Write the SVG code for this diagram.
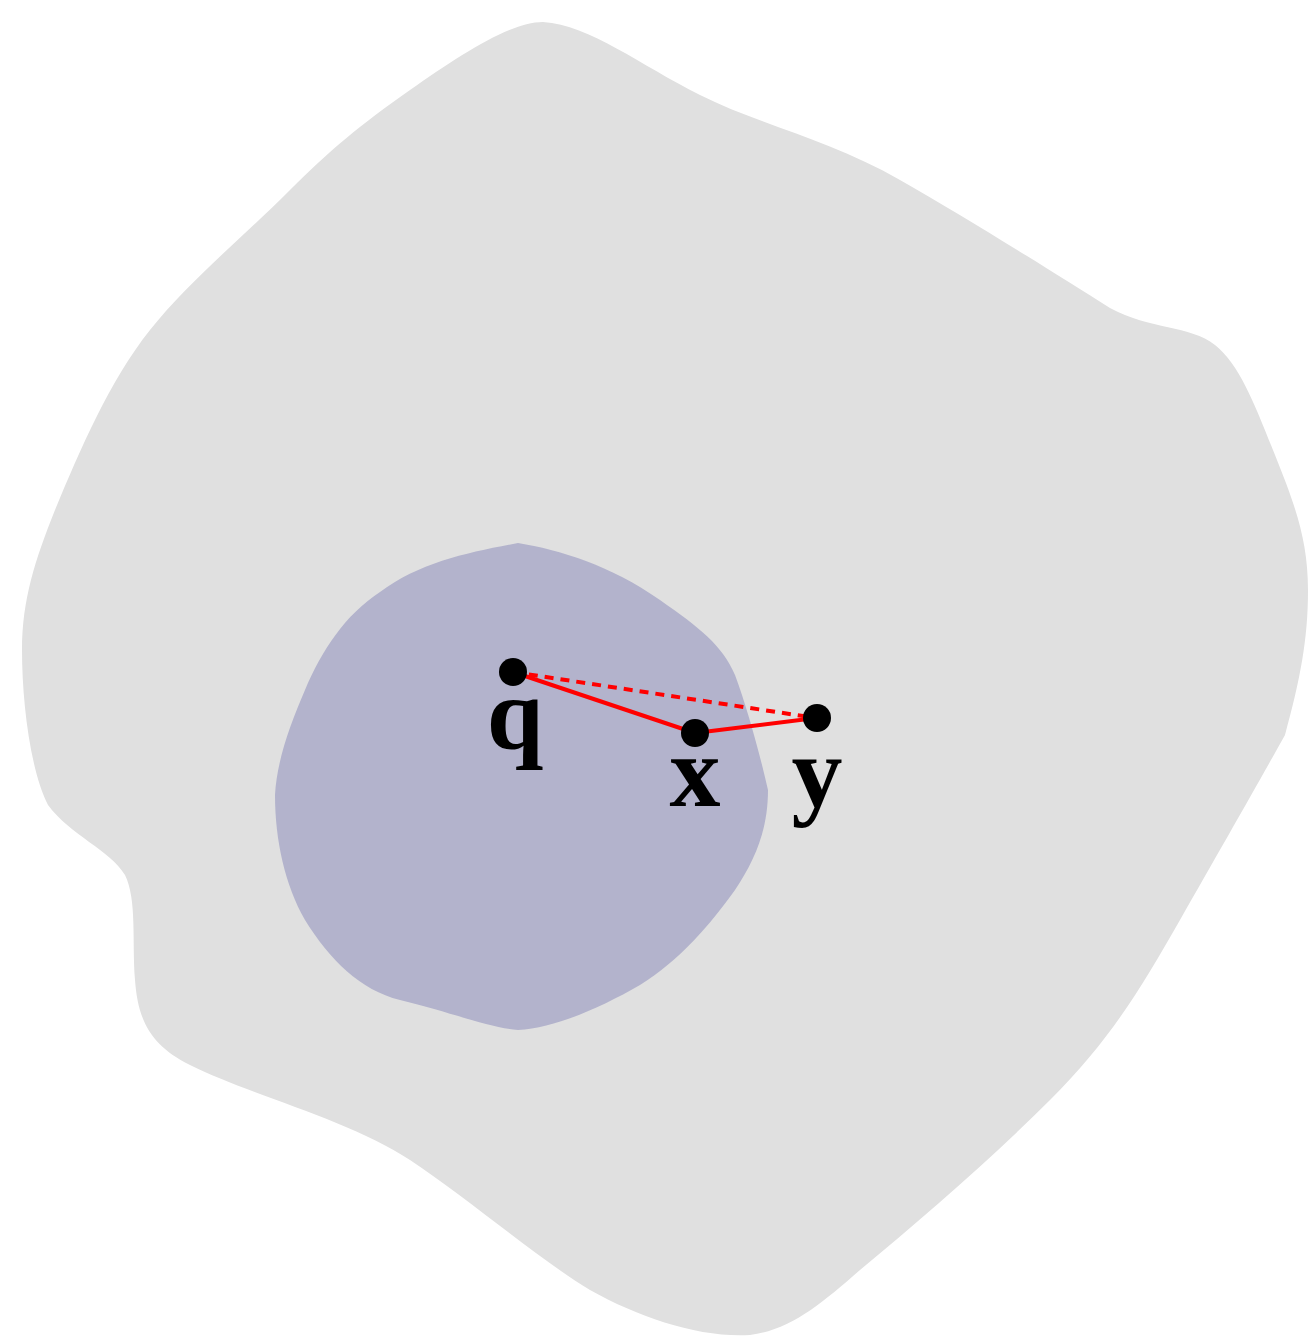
<svg xmlns="http://www.w3.org/2000/svg" width="1308" height="1339" viewBox="0 0 1308 1339">
<style>
.lbl{font-family:"Liberation Serif","Times New Roman",serif;font-weight:bold;font-size:102px;fill:#000;text-anchor:middle}
.pt{fill:#000}
.edge{stroke:#ff0000;stroke-width:4;fill:none}
</style>
<rect width="1308" height="1339" fill="#ffffff"/>
<g id="outer">
<path fill="#e0e0e0" d="M543,22 C590,25 640,65 700,95 C760,125 830,140 900,180 C970,220 1050,270 1110,308 C1150,330 1190,325 1215,345 C1240,365 1255,405 1275,455 C1295,505 1308,540 1308,590 C1308,640 1300,680 1285,735 C1260,780 1220,850 1180,920 C1140,990 1110,1040 1050,1100 C990,1160 920,1220 860,1270 C820,1305 790,1330 750,1335 C700,1338 640,1318 590,1290 C540,1260 470,1200 410,1160 C350,1120 250,1095 190,1065 C150,1045 138,1020 135,980 C132,940 137,900 125,875 C110,850 70,835 48,805 C30,770 22,700 22,650 C22,600 35,560 55,510 C80,450 110,380 150,330 C190,280 240,240 290,190 C330,150 360,125 410,90 C460,55 510,22 543,22 Z"/>
</g>
<g id="inner">
<path fill="#b3b3cc" d="M518,543 C560,550 610,565 660,600 C700,628 722,645 735,675 C748,710 760,755 768,790 C768,830 755,860 735,890 C710,925 680,960 640,985 C600,1008 555,1028 518,1030 C490,1028 450,1012 400,1000 C360,990 330,960 305,920 C285,885 275,840 275,795 C277,760 290,725 305,690 C322,650 345,615 380,592 C420,562 470,552 518,543 Z"/>
</g>
<g id="connectors">
<line class="edge" x1="513" y1="672" x2="695" y2="733"/>
<line class="edge" x1="695" y1="733" x2="816" y2="718"/>
<line class="edge" x1="513" y1="672" x2="816" y2="718" stroke-dasharray="9,7"/>
</g>
<g id="node-q"><circle class="pt" cx="513" cy="672" r="14"/><text class="lbl" x="515" y="748">q</text></g>
<g id="node-x"><circle class="pt" cx="695" cy="733" r="14"/><text class="lbl" x="695" y="806">x</text></g>
<g id="node-y"><circle class="pt" cx="817" cy="718" r="14"/><text class="lbl" x="817" y="806">y</text></g>
</svg>
